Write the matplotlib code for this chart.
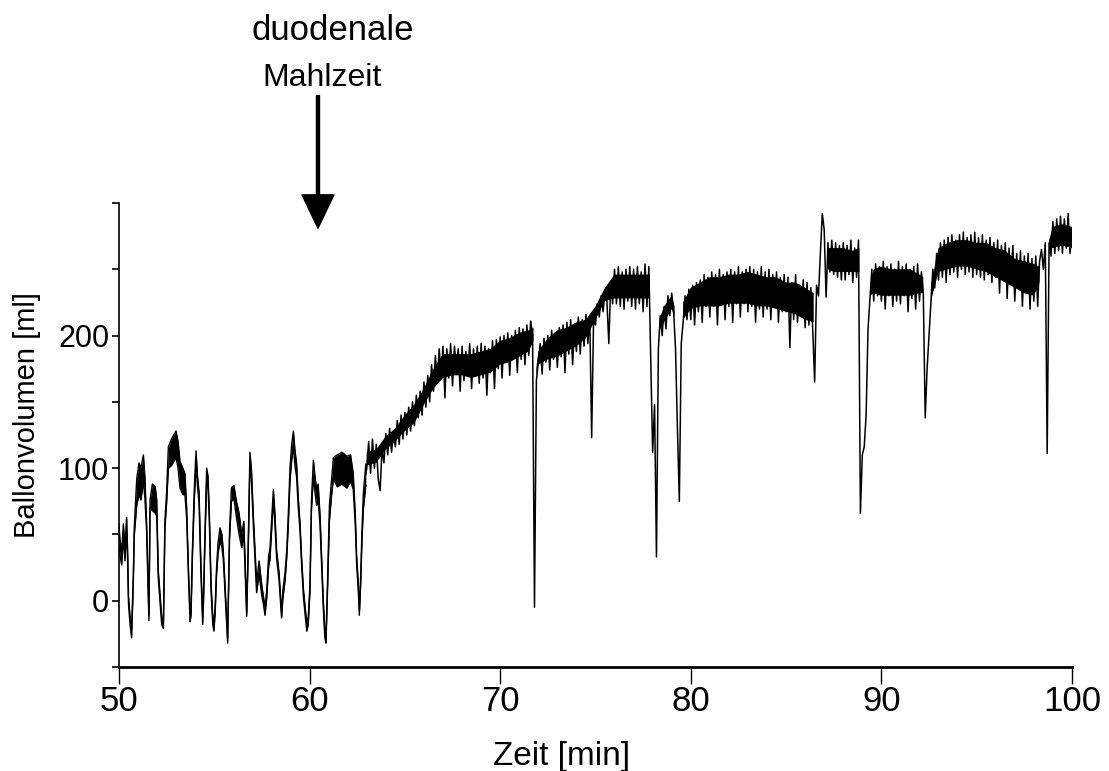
import matplotlib
matplotlib.use("Agg")
import matplotlib.pyplot as plt
import numpy as np

plt.rcParams['font.family'] = ['Liberation Sans', 'DejaVu Sans']

# Teil 1 (50-63 min): Zeitpunkte [min], Mittelwert [ml], halbe Rauschbreite [ml]
zeit = [50.00, 50.05, 50.14, 50.23, 50.31, 50.40, 50.45, 50.50, 50.58, 50.66,
        50.75, 50.80, 50.93, 51.05, 51.15, 51.28, 51.36, 51.45, 51.57, 51.63,
        51.75, 51.90, 51.98, 52.06, 52.24, 52.33, 52.41, 52.50, 52.59, 52.75,
        52.99, 53.10, 53.20, 53.35, 53.46, 53.55, 53.64, 53.73, 53.78, 53.85,
        53.95, 54.04, 54.12, 54.20, 54.30, 54.39, 54.44, 54.51, 54.60, 54.67,
        54.74, 54.83, 54.92, 54.98, 55.05, 55.12, 55.20, 55.30, 55.40, 55.47,
        55.56, 55.70, 55.80, 55.90, 56.03, 56.15, 56.30, 56.44, 56.55, 56.70,
        56.78, 56.87, 56.95, 57.05, 57.15, 57.22, 57.35, 57.49, 57.58, 57.66,
        57.75, 57.85, 57.92, 58.00, 58.10, 58.18, 58.27, 58.40, 58.53, 58.60,
        58.71, 58.80, 58.88, 58.97, 59.06, 59.15, 59.23, 59.32, 59.40, 59.50,
        59.58, 59.68, 59.85, 59.93, 60.02, 60.10, 60.20, 60.28, 60.37, 60.45,
        60.55, 60.63, 60.72, 60.80, 60.86, 60.93, 61.04, 61.15, 61.25, 61.45,
        61.70, 61.95, 62.15, 62.29, 62.40, 62.47, 62.55, 62.61, 62.68, 62.75,
        62.82, 62.95]

volumen = [50, 40, 32, 53, 35, 58, 35, 0, -15, -25,
           15, 52, 82, 92, 88, 100, 85, 55, -13, 73,
           78, 76, 70, 20, -15, -18, 58, 78, 108, 112,
           118, 110, 95, 90, 88, 66, 23, -13, -8, 35,
           80, 108, 90, 78, 23, -15, 5, 48, 95, 90,
           63, 10, -15, -20, -5, 23, 40, 50, 45, 35,
           10, -30, 50, 80, 82, 70, 58, 45, 55, -10,
           40, 108, 95, 60, 30, 10, 25, 8, 0, -8,
           5, 30, 35, 55, 80, 62, 35, 18, -11, 5,
           18, 35, 60, 95, 112, 122, 108, 98, 75, 55,
           30, 5, -20, -15, 10, 73, 100, 88, 78, 82,
           60, 30, -3, -25, -30, 5, 66, 85, 100, 98,
           100, 97, 100, 90, 60, 30, 12, -9, 15, 50,
           75, 95]

rauschen = [8, 6, 5, 5, 5, 5, 4, 3, 3, 3,
            3, 3, 10, 12, 12, 10, 8, 3, 2, 3,
            10, 10, 6, 3, 3, 3, 3, 4, 8, 10,
            10, 10, 10, 10, 8, 4, 3, 3, 3, 3,
            4, 5, 4, 4, 3, 3, 3, 3, 5, 4,
            3, 3, 3, 3, 3, 3, 4, 5, 5, 3,
            3, 2, 3, 5, 5, 6, 8, 5, 5, 2,
            3, 4, 4, 4, 4, 4, 5, 4, 3, 3,
            3, 4, 4, 4, 4, 4, 3, 3, 2, 3,
            3, 3, 4, 5, 6, 6, 6, 5, 4, 3,
            3, 3, 3, 3, 3, 4, 6, 6, 6, 6,
            4, 3, 3, 3, 2, 3, 6, 6, 8, 12,
            12, 12, 10, 6, 4, 3, 3, 2, 3, 4,
            6, 8]

# Teil 2 (63-100 min): Messwerte alle 0,1 min [ml], eine Zeile pro Minute
volumen2 = [
    100, 120, 96, 122, 100, 118, 92, 83, 115, 104,      # 63
    126, 110, 130, 112, 128, 116, 136, 118, 140, 122,   # 64
    142, 125, 146, 128, 150, 132, 155, 138, 158, 140,   # 65
    165, 146, 170, 150, 178, 158, 185, 165, 190, 170,   # 66
    192, 153, 190, 168, 194, 162, 192, 176, 190, 158,   # 67
    192, 166, 188, 172, 194, 160, 190, 170, 192, 164,   # 68
    194, 168, 192, 155, 190, 172, 196, 160, 197, 175,   # 69
    199, 168, 200, 180, 202, 170, 200, 182, 204, 172,   # 70
    206, 182, 205, 178, 208, 185, 211, 200, -5, 166,    # 71
    180, 194, 171, 198, 180, 200, 174, 204, 182, 202,   # 72
    176, 206, 184, 208, 172, 210, 186, 212, 178, 206,   # 73
    188, 214, 186, 212, 192, 216, 194, 214, 123, 212,   # 74
    208, 224, 214, 230, 218, 234, 226, 194, 240, 224,   # 75
    250, 224, 252, 222, 248, 220, 250, 226, 252, 222,   # 76
    250, 220, 252, 224, 248, 218, 254, 222, 252, 180,   # 77
    112, 148, 33, 190, 215, 200, 222, 205, 230, 215,    # 78
    232, 218, 190, 130, 75, 194, 210, 230, 212, 235,    # 79
    212, 238, 208, 240, 218, 242, 210, 246, 222, 244,   # 80
    214, 248, 222, 246, 208, 250, 224, 246, 212, 248,   # 81
    222, 250, 210, 248, 224, 252, 214, 248, 224, 250,   # 82
    218, 252, 222, 250, 210, 248, 220, 252, 214, 248,   # 83
    220, 250, 212, 246, 222, 248, 210, 244, 218, 246,   # 84
    218, 244, 191, 240, 212, 246, 210, 238, 214, 242,   # 85
    206, 240, 208, 236, 204, 165, 238, 230, 262, 292,   # 86
    280, 229, 270, 248, 272, 246, 270, 244, 268, 242,   # 87
    270, 242, 268, 246, 272, 240, 266, 244, 272, 66,    # 88
    110, 116, 140, 205, 228, 250, 226, 254, 230, 252,   # 89
    226, 256, 220, 252, 230, 254, 222, 250, 226, 256,   # 90
    224, 252, 230, 254, 218, 250, 228, 252, 220, 254,   # 91
    226, 248, 232, 138, 175, 200, 225, 250, 236, 262,   # 92
    242, 270, 244, 272, 240, 274, 246, 276, 248, 272,   # 93
    244, 276, 250, 278, 246, 274, 248, 276, 244, 278,   # 94
    246, 274, 244, 276, 242, 272, 246, 274, 240, 270,   # 95
    244, 272, 232, 268, 242, 270, 228, 266, 240, 268,   # 96
    226, 262, 236, 264, 222, 260, 232, 262, 220, 258,   # 97
    226, 260, 222, 256, 265, 250, 270, 111, 270, 260,   # 98
    286, 262, 288, 264, 290, 262, 288, 266, 292, 262,   # 99
    280]                                                # 100
zeit2 = np.round(np.arange(len(volumen2)) * 0.1 + 63.0, 1)

# dichter Kern des Rauschbands in Teil 2 (NaN trennt die Abschnitte)
kern_zeit = [63.0, 63.5, 64.0, 64.5, 65.0, 65.5, 66.0, 66.5, 67.0, 67.5,
             68.0, 68.5, 69.0, 69.5, 70.0, 70.5, 71.0, 71.5, 71.75, 71.8,
             71.9, 72.0, 72.5, 73.0, 73.5, 74.0, 74.5, 75.0, 75.5, 76.0,
             76.5, 77.0, 77.5, 77.85, 78.0,
             78.35, 78.6, 79.0, 79.15, 79.3,
             79.6, 80.0, 80.5, 81.0, 81.5, 82.0, 82.5, 83.0, 83.5, 84.0,
             84.5, 85.0, 85.5, 86.0, 86.45, 86.6,
             87.2, 87.5, 88.0, 88.5, 88.85, 88.9,
             89.4, 89.6, 90.0, 90.5, 91.0, 91.5, 92.0, 92.2, 92.3,
             92.6, 93.0, 93.5, 94.0, 94.5, 95.0, 95.5, 96.0, 96.5, 97.0,
             97.5, 98.0, 98.3, 98.5,
             98.8, 99.0, 99.5, 100.0]
kern_unten = [102, 104, 114, 120, 128, 134, 148, 160, 168, 170,
              170, 168, 170, 172, 178, 180, 184, 188, 196, np.nan,
              170, 178, 182, 184, 188, 192, 198, 212, 226, 228,
              228, 228, 228, 228, np.nan,
              204, 210, 220, 214, np.nan,
              212, 220, 222, 222, 222, 224, 224, 224, 222, 222,
              220, 218, 216, 212, 210, np.nan,
              250, 248, 248, 248, 248, np.nan,
              230, 232, 230, 230, 230, 230, 232, 232, np.nan,
              226, 248, 250, 252, 252, 250, 248, 244, 240, 236,
              232, 230, 240, np.nan,
              266, 266, 268, 266]
kern_oben = [112, 114, 124, 130, 140, 148, 160, 175, 186, 186,
             186, 186, 188, 190, 196, 198, 202, 204, 206, np.nan,
             176, 188, 198, 204, 206, 210, 212, 222, 236, 246,
             246, 246, 246, 246, np.nan,
             212, 222, 230, 222, np.nan,
             225, 236, 240, 244, 244, 246, 246, 248, 246, 244,
             244, 240, 240, 236, 232, np.nan,
             266, 266, 266, 264, 266, np.nan,
             236, 250, 252, 250, 250, 250, 246, 244, np.nan,
             238, 266, 270, 272, 272, 270, 270, 266, 264, 258,
             256, 254, 252, np.nan,
             272, 282, 284, 282]

y_ticks = [-50, 0, 50, 100, 150, 200, 250, 300]
y_labels = ['', '0', '', '100', '', '200', '', '']
x_ticks = [50, 60, 70, 80, 90, 100]

zeit = np.array(zeit)
volumen = np.array(volumen)
rauschen = np.array(rauschen)

fig = plt.figure(figsize=(11.09, 7.71), dpi=100)
ax = fig.add_axes([0.1073, 0.1349, 0.8593, 0.6018])

ax.fill_between(zeit, volumen - rauschen, volumen + rauschen, color='black', lw=0)
ax.plot(zeit, volumen + rauschen, color='black', lw=1.0)
ax.plot(zeit, volumen - rauschen, color='black', lw=1.0)
ax.fill_between(kern_zeit, kern_unten, kern_oben, color='black', lw=0)
ax.plot(np.concatenate([zeit[-1:], zeit2]), np.concatenate([volumen[-1:], volumen2]),
        color='black', lw=1.1)

ax.set_xlim(50, 100)
ax.set_ylim(-50, 300)
ax.set_xticks(x_ticks)
ax.set_yticks(y_ticks)
ax.set_yticklabels(y_labels)

ax.spines['top'].set_visible(False)
ax.spines['right'].set_visible(False)
ax.spines['left'].set_linewidth(1.2)
ax.spines['bottom'].set_linewidth(2.0)
ax.tick_params(axis='x', direction='out', length=12, width=1.0, pad=1, labelsize=25)
ax.tick_params(axis='y', direction='out', length=5, width=1.2, pad=2, labelsize=22)

ax.set_xlabel('Zeit [min]', fontsize=24)
ax.xaxis.set_label_coords(0.464, -0.160)
ax.set_ylabel('Ballonvolumen [ml]', fontsize=21)
ax.yaxis.set_label_coords(-0.082, 0.543)

# Pfeil für die duodenale Mahlzeit
ax.annotate('', xy=(60.44, 281), xytext=(60.44, 381), xycoords='data',
            annotation_clip=False,
            arrowprops=dict(facecolor='black', edgecolor='black', width=2.2,
                            headwidth=23, headlength=24))
fig.text(0.300, 0.960, 'duodenale', ha='center', va='center', fontsize=25)
fig.text(0.290, 0.899, 'Mahlzeit', ha='center', va='center', fontsize=23)

fig.savefig('out.png', dpi=100)
